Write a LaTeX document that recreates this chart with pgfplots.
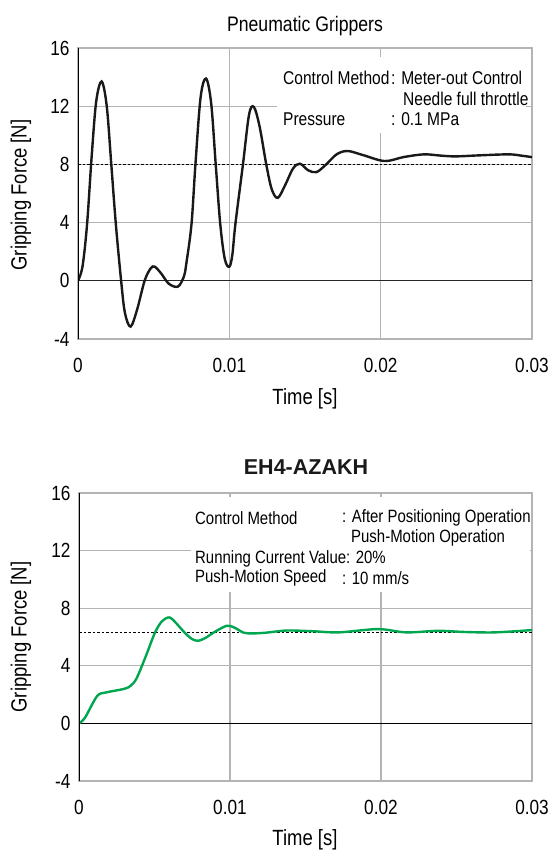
\documentclass[border=0pt]{standalone}
\usepackage{pgfplots}
\pgfplotsset{compat=1.18}
\usepackage{fontspec}
\setmainfont{Liberation Sans}[FakeStretch=0.84]
\newfontfamily\widefont{Liberation Sans}
\definecolor{gripgreen}{RGB}{0,166,80}
\definecolor{gridgray}{RGB}{180,180,180}

\pgfplotsset{
  gripaxis/.style={
    scale only axis,
    xmin=0, xmax=0.03, ymin=-4, ymax=16,
    xtick={0,0.01,0.02,0.03}, xticklabels={0,0.01,0.02,0.03},
    ytick={-4,0,4,8,12,16}, yticklabels={-4,0,4,8,12,16},
    scaled x ticks=false,
    major tick length=0pt,
    grid=major,
    major grid style={gridgray, line width=1.2pt},
    axis line style={gridgray, line width=1.2pt},
    tick label style={font=\fontsize{20.5}{22}\selectfont},
    xticklabel style={yshift=-16pt},
    yticklabel style={xshift=-5pt},
    clip=true,
  }
}

\begin{document}
\begin{tikzpicture}[x=1pt,y=1pt]
\useasboundingbox (0,0) rectangle (556,850);

% ---------- top: pneumatic grippers
\begin{axis}[gripaxis, at={(78pt,511pt)}, anchor=south west, width=454pt, height=291pt]
  \draw[black!85, line width=1.4pt] (axis cs:0,0) -- (axis cs:0.03,0);
  \draw[black, line width=1.2pt, dash pattern=on 2.5pt off 2pt] (axis cs:0,8) -- (axis cs:0.03,8);
  \addplot[black!90, line width=2.4pt, smooth, tension=0.55] coordinates {
    (0,0) (0.0003,1.0) (0.0006,3.9) (0.0009,8.5) (0.0012,12.3) (0.00156,13.7)
    (0.0019,12.0) (0.0022,8.0) (0.0025,3.9) (0.00285,0) (0.0031,-2.2) (0.00347,-3.15)
    (0.0039,-2.0) (0.0044,0) (0.0048,0.85) (0.00507,0.97) (0.0055,0.5) (0.0060,-0.2)
    (0.0066,-0.4) (0.0070,0.3) (0.00716,1.2) (0.0075,3.9) (0.00776,8.0) (0.0081,12.6)
    (0.00846,13.9) (0.0088,12.2) (0.0091,8.0) (0.0094,3.9) (0.0097,1.5) (0.0100,0.97)
    (0.0102,1.8) (0.0104,3.9) (0.0109,8.0) (0.0113,11.4) (0.01162,11.95) (0.0120,10.6)
    (0.01244,8.0) (0.0128,6.3) (0.0132,5.7) (0.0137,6.6) (0.0142,7.7) (0.01466,8.05)
    (0.0152,7.6) (0.01576,7.47) (0.0164,8.0) (0.0171,8.7) (0.01782,8.92) (0.0188,8.65)
    (0.02026,8.23) (0.0215,8.5) (0.02285,8.69) (0.0240,8.6) (0.02495,8.55) (0.0265,8.62)
    (0.02846,8.69) (0.0293,8.6) (0.0300,8.5)
  };
  \draw[black, line width=1.4pt] (rel axis cs:0,0) -- (rel axis cs:0,1);
\end{axis}

% ---------- bottom: EH4-AZAKH
\begin{axis}[gripaxis, at={(79pt,69pt)}, anchor=south west, width=453pt, height=288pt]
  \draw[black, line width=1.4pt] (axis cs:0,0) -- (axis cs:0.03,0);
  \draw[black, line width=1.2pt, dash pattern=on 2.5pt off 2pt] (axis cs:0,6.3) -- (axis cs:0.03,6.3);
  \addplot[gripgreen, line width=2.4pt, smooth, tension=0.5] coordinates {
    (0,0) (0.0004,0.4) (0.0012,1.9) (0.0018,2.15) (0.0030,2.4) (0.0034,2.6)
    (0.0038,3.1) (0.0044,4.6) (0.00503,6.3) (0.0055,7.1) (0.00598,7.36) (0.0064,7.0)
    (0.0070,6.3) (0.0075,5.85) (0.0079,5.74) (0.0084,5.95) (0.0089,6.3)
    (0.00978,6.78) (0.0103,6.65) (0.0109,6.3) (0.01152,6.25) (0.0124,6.3)
    (0.01375,6.45) (0.0155,6.4) (0.0172,6.32) (0.0198,6.55) (0.02167,6.32)
    (0.02378,6.43) (0.0255,6.35) (0.02753,6.32) (0.0300,6.48)
  };
  \draw[black, line width=1.4pt] (rel axis cs:0,0) -- (rel axis cs:0,1);
\end{axis}

% white boxes behind the condition texts
\fill[white] (277,850-133) rectangle (526,850-57);
\fill[white] (191,850-592) rectangle (530,850-497);

% titles and axis labels
\node[font=\fontsize{21}{24}\selectfont] at (305,850-26) {Pneumatic Grippers};
\node[font=\widefont\fontsize{21.5}{24}\selectfont\bfseries, text=black!90] at (306,850-467) {EH4-AZAKH};
\node[font=\fontsize{22}{24}\selectfont] at (305,850-399) {Time [s]};
\node[font=\fontsize{22}{24}\selectfont] at (305,850-840) {Time [s]};
\node[font=\fontsize{22}{24}\selectfont, rotate=90] at (21,850-195) {Gripping Force [N]};
\node[font=\fontsize{22}{24}\selectfont, rotate=90] at (21,850-637) {Gripping Force [N]};

% condition texts
\begin{scope}[every node/.style={anchor=west, inner sep=0pt, font=\fontsize{18.5}{20}\selectfont}]
  \node at (283,850-78) {Control Method};
  \node at (391,850-78) {: Meter-out Control};
  \node at (403,850-99) {Needle full throttle};
  \node at (283,850-119) {Pressure};
  \node at (391,850-119) {: 0.1 MPa};
\end{scope}
\begin{scope}[every node/.style={anchor=west, inner sep=0pt, font=\fontsize{17.8}{20}\selectfont}]
  \node at (195,850-518) {Control Method};
  \node at (342,850-518) {: After Positioning Operation};
  \node at (351,850-538) {Push-Motion Operation};
  \node at (195,850-559) {Running Current Value: 20\%};
  \node at (195,850-578) {Push-Motion Speed};
  \node at (342,850-578) {: 10 mm/s};
\end{scope}
\end{tikzpicture}
\end{document}
